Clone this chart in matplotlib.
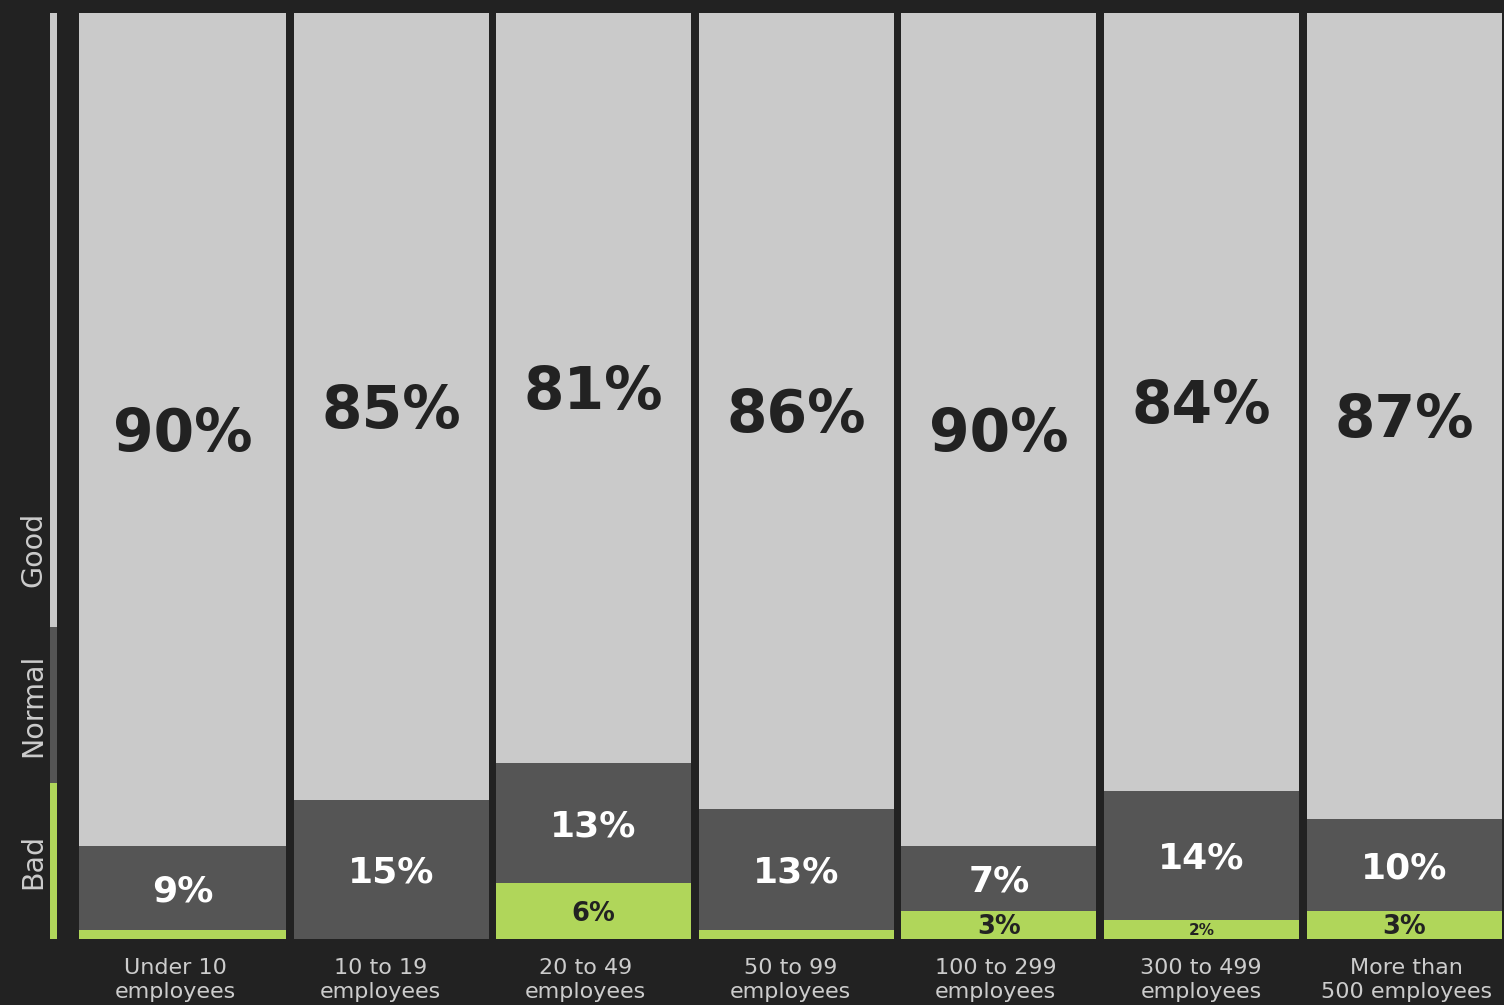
import numpy as np
import matplotlib
matplotlib.use("Agg")
import matplotlib.pyplot as plt

# Company size groups and the share of answers in each rating
categories = ["Under 10\nemployees", "10 to 19\nemployees", "20 to 49\nemployees",
              "50 to 99\nemployees", "100 to 299\nemployees", "300 to 499\nemployees",
              "More than\n500 employees"]
bad = [1, 0, 6, 1, 3, 2, 3]
normal = [9, 15, 13, 13, 7, 14, 10]
good = [90, 85, 81, 86, 90, 84, 87]

legend_labels = ["Bad", "Normal", "Good"]

BG = "#222222"
C_BAD = "#b0d65a"
C_NORMAL = "#555555"
C_GOOD = "#cacaca"
TXT_DARK = "#222222"
TXT_LIGHT = "#cccccc"

W, H = 1504, 1005
fig = plt.figure(figsize=(W / 100, H / 100), dpi=100, facecolor=BG)

# Main plotting area: bars run from the bottom edge at y=939px to the top at y=13px
ax = fig.add_axes([0, (H - 939) / H, 1, (939 - 13) / H])
ax.set_facecolor(BG)
step_px = 202.6
x0_px = 188.4
ax.set_xlim(-x0_px / step_px, (W - x0_px) / step_px)
ax.set_ylim(0, 100)

n = len(categories)
x = np.arange(n)
bar_w = 195 / step_px
lefts = x - bar_w / 2
widths = np.full(n, bar_w)
# the first column is drawn a little wider on its left side
lefts[0] -= 0.059
widths[0] += 0.059
centers = lefts + widths / 2

bad_a = np.array(bad, dtype=float)
normal_a = np.array(normal, dtype=float)
good_a = np.array(good, dtype=float)

ax.bar(lefts, bad_a, width=widths, align="edge", color=C_BAD, linewidth=0)
ax.bar(lefts, normal_a, width=widths, bottom=bad_a, align="edge", color=C_NORMAL, linewidth=0)
ax.bar(lefts, good_a, width=widths, bottom=bad_a + normal_a, align="edge", color=C_GOOD, linewidth=0)


def seg_label(cx, cy, text, size, color):
    # centre the cap height of the digits on the segment middle
    ax.annotate(text, (cx, cy), xytext=(0, -0.365 * size), textcoords="offset points",
                ha="center", va="baseline", fontsize=size, fontweight="bold", color=color)


for cx, b, nm, g in zip(centers, bad_a, normal_a, good_a):
    seg_label(cx, b + nm + g / 2, f"{g:.0f}%", 42, TXT_DARK)
    if nm > 0:
        seg_label(cx, b + nm / 2, f"{nm:.0f}%", 26, "white")
    if b >= 2:
        seg_label(cx, b / 2, f"{b:.0f}%", 11 if b <= 2 else 18.5, TXT_DARK)

# category captions sit on a slightly wider, evenly spaced grid below the bars
tick_x = -0.066 + x * 1.0127
ax.set_xticks(tick_x, categories)
ax.tick_params(axis="x", length=0, pad=13.5, labelsize=16, labelcolor=TXT_LIGHT)
for t in ax.get_xticklabels():
    t.set_linespacing(1.26)
ax.set_yticks([])
for s in ax.spines.values():
    s.set_visible(False)

# Rating key: a thin coloured strip with rotated labels to its left
lax = fig.add_axes([50 / W, (H - 939) / H, 6.7 / W, (939 - 13) / H])
lax.set_xlim(0, 1)
lax.set_ylim(0, 100)
lax.axis("off")
band = 156 / 926 * 100
key_edges = [0, band, 2 * band, 100]
for (lo, hi), c in zip(zip(key_edges[:-1], key_edges[1:]), [C_BAD, C_NORMAL, C_GOOD]):
    lax.bar(0, hi - lo, bottom=lo, width=1, align="edge", color=c, linewidth=0)

for i, lab in enumerate(legend_labels):
    yc = (i + 0.5) * band
    fig.text(33 / W, ((H - 939) + yc / 100 * 926) / H, lab, rotation=90,
             ha="center", va="center", fontsize=20.5, color=TXT_LIGHT)

fig.savefig("out.png", dpi=100, facecolor=BG)
